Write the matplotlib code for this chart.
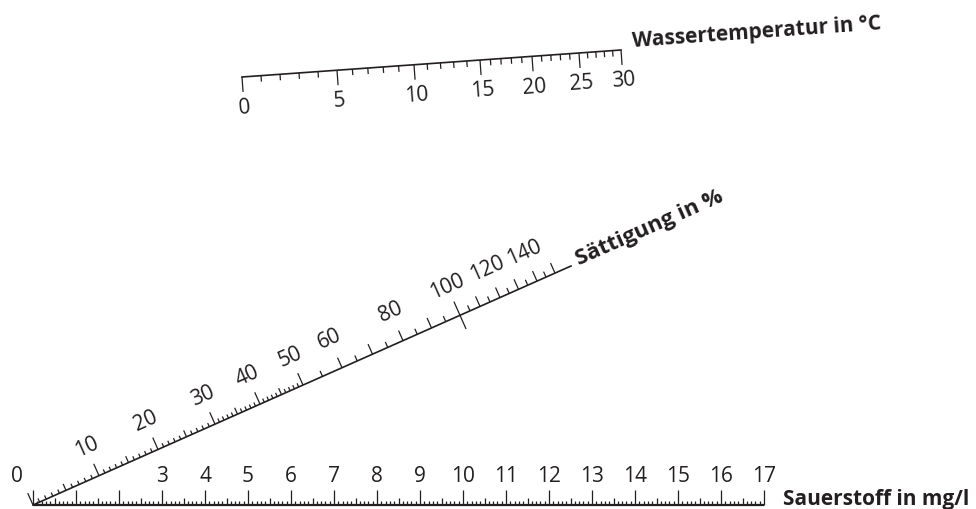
import numpy as np
import matplotlib.pyplot as plt
from matplotlib.collections import LineCollection

plt.rcParams['font.family'] = ['Open Sans', 'DejaVu Sans']

# --- data: scale values ---
# Sauerstoff in mg/l, linear scale
oxy_major = np.arange(0, 18)
oxy_labels = list(range(3, 18))
oxy_minor = np.round(np.arange(0, 17.001, 0.1), 1)

# Wassertemperatur in °C, non-linear scale: values at major ticks and where they sit (x px)
temp_major = [0, 5, 10, 15, 20, 25, 30]
temp_major_x = [242, 337, 414, 480, 532, 579, 621]
temp_minor = np.arange(0, 31)

# Sättigung in %, non-linear scale
sat_calib = [0, 10, 20, 30, 40, 50, 60, 80, 100, 120, 140, 150]
sat_calib_x = [33, 99, 158, 215, 260, 303, 342, 403, 460, 500, 537, 555]
sat_labels = [10, 20, 30, 40, 50, 60, 80, 100, 120, 140]
sat_minor = list(range(0, 50)) + list(range(50, 151, 5))

# --- layout (pixel space) ---
W, H = 976, 509
TEMP_P0, TEMP_P1 = (242, 77), (621, 50)
SAT_P0, SAT_P1 = (33, 505), (571, 266)
OXY_X0, OXY_DX, OXY_Y = 33, 43.0, 505
INK = '#231f20'
FS = 15
FS_B = 15

fig = plt.figure(figsize=(W / 100, H / 100), dpi=100)
ax = fig.add_axes([0, 0, 1, 1])
ax.set_xlim(0, W)
ax.set_ylim(H, 0)
ax.axis('off')


def line_geom(p0, p1):
    d = np.array(p1, float) - np.array(p0, float)
    d /= np.hypot(*d)
    ang = np.degrees(np.arctan2(-d[1], d[0]))
    return d, ang


def point_on(p0, p1, x):
    x = np.asarray(x, float)
    slope = (p1[1] - p0[1]) / (p1[0] - p0[0])
    return np.column_stack([x, p0[1] + (x - p0[0]) * slope])


def ticks(pts, lengths, normal, both=None):
    segs = []
    for i, (p, l) in enumerate(zip(pts, lengths)):
        if both is not None and both[i]:
            segs.append([p - normal * l, p + normal * l])
        else:
            segs.append([p, p + normal * l])
    ax.add_collection(LineCollection(segs, colors=INK, linewidths=0.9))


# Sauerstoff scale
ax.plot([OXY_X0, OXY_X0 + 17 * OXY_DX], [OXY_Y, OXY_Y], color=INK, lw=1.6,
        solid_capstyle='butt')
ox = OXY_X0 + oxy_minor * OXY_DX
opts = np.column_stack([ox, np.full_like(ox, OXY_Y)])
olen = [15 if abs(v - round(v)) < 1e-6 else (7 if abs(v * 2 - round(v * 2)) < 1e-6 else 4)
        for v in oxy_minor]
ticks(opts, olen, np.array([0.0, -1.0]))
for v in oxy_labels:
    ax.text(OXY_X0 + v * OXY_DX, OXY_Y - 29, str(v), ha='center', va='center',
            fontsize=FS, color=INK)
ax.text(17, 477, '0', ha='center', va='center', fontsize=FS, color=INK)
ax.text(OXY_X0 + 17 * OXY_DX + 19, OXY_Y, 'Sauerstoff in mg/l', ha='left',
        va='baseline', fontsize=FS_B, fontweight='bold', color=INK)

# Wassertemperatur scale
d, ang = line_geom(TEMP_P0, TEMP_P1)
n_down = np.array([-d[1], d[0]])
ax.plot([TEMP_P0[0], TEMP_P1[0]], [TEMP_P0[1], TEMP_P1[1]], color=INK, lw=1.2)
tx = np.interp(temp_minor, temp_major, temp_major_x)
tpts = point_on(TEMP_P0, TEMP_P1, tx)
ticks(tpts, [15 if v % 5 == 0 else 6 for v in temp_minor], n_down)
for v in temp_major:
    p = point_on(TEMP_P0, TEMP_P1, [np.interp(v, temp_major, temp_major_x)])[0] + n_down * 31
    ax.text(p[0], p[1], str(v), ha='center', va='center', rotation=ang,
            rotation_mode='anchor', fontsize=FS, color=INK)
ax.text(633, 47, 'Wassertemperatur in °C', ha='left', va='baseline', rotation=ang,
        rotation_mode='anchor', fontsize=FS_B, fontweight='bold', color=INK)

# Sättigung scale
d, ang = line_geom(SAT_P0, SAT_P1)
n_up = np.array([d[1], -d[0]])
ax.plot([SAT_P0[0], SAT_P1[0]], [SAT_P0[1], SAT_P1[1]], color=INK, lw=1.2)
sx = np.interp(sat_minor, sat_calib, sat_calib_x)
spts = point_on(SAT_P0, SAT_P1, sx)
slen = []
for v in sat_minor:
    if v == 100:
        slen.append(15)
    elif v % 10 == 0:
        slen.append(13 if v <= 50 else 11)
    elif v % 5 == 0:
        slen.append(7 if v < 50 else 6)
    else:
        slen.append(4)
ticks(spts, slen, n_up, both=[v == 100 for v in sat_minor])
for v in sat_labels:
    p = point_on(SAT_P0, SAT_P1, [np.interp(v, sat_calib, sat_calib_x)])[0] + n_up * 31
    ax.text(p[0], p[1], str(v), ha='center', va='center', rotation=ang,
            rotation_mode='anchor', fontsize=FS, color=INK)
ax.text(579, 265, 'Sättigung in %', ha='left', va='baseline', rotation=ang,
        rotation_mode='anchor', fontsize=FS_B + 1, fontweight='bold', color=INK)

fig.savefig('out.png', dpi=100)
